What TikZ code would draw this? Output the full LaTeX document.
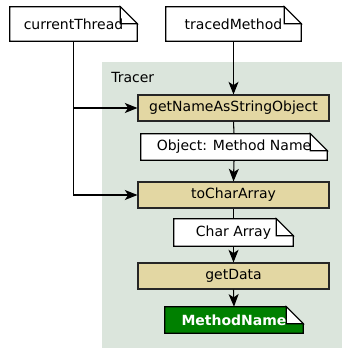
\documentclass[tikz,border=0pt]{standalone}
\usepackage{fontspec}
\setmainfont{DejaVu Sans}
\usetikzlibrary{arrows.meta}

\definecolor{clusterbg}{RGB}{219,229,220}
\definecolor{procfill}{RGB}{227,215,163}
\definecolor{outcol}{RGB}{0,128,0}

\pgfdeclarelayer{cluster}
\pgfdeclarelayer{paper}
\pgfsetlayers{cluster,paper,main}

\tikzset{
  lbl/.style={font=\fontsize{10.5}{12}\selectfont},
  proc/.style={lbl, draw=black!85, fill=procfill, line width=0.8pt,
    minimum width=143.25pt, minimum height=19.5pt, inner sep=0pt},
  notebox/.style={lbl, inner sep=0pt, minimum height=19.5pt},
  flow/.style={line width=0.8pt, -{Stealth[length=9.5pt,width=7.5pt,inset=2.5pt]}},
  link/.style={line width=0.8pt},
}

% paper outline with a folded corner behind a note node
\newcommand\notepaper[3]{%
  \draw[fill=#2, line width=0.8pt]
    (#1.south west) -- (#1.north west) -- ([xshift=-12.75pt]#1.north east)
    -- ([yshift=-12.75pt]#1.north east) -- (#1.south east) -- cycle;
  \draw[fill=#3, line width=0.8pt]
    ([xshift=-12.75pt]#1.north east) -- ([xshift=-12.75pt,yshift=-12.75pt]#1.north east)
    -- ([yshift=-12.75pt]#1.north east) -- cycle;
}

\begin{document}
\begin{tikzpicture}[x=0.75pt,y=-0.75pt]
  \useasboundingbox (0,0) rectangle (343,349);

  % inputs
  \node[notebox, minimum width=95.25pt, minimum height=25.5pt] (ct) at (73.5,24) {currentThread};
  \node[notebox, minimum width=101.25pt, minimum height=25.5pt] (tm) at (233.5,24) {tracedMethod};

  % Tracer steps
  \node[proc] (gn) at (233.5,108) {getNameAsStringObject};
  \node[notebox, minimum width=139.5pt] (on) at (234,147) {Object: Method Name};
  \node[proc] (tc) at (233.5,195) {toCharArray};
  \node[notebox, minimum width=89.25pt, minimum height=20.25pt] (ca) at (233.5,232.5) {Char Array};
  \node[proc] (gd) at (233.5,276) {getData};
  \node[notebox, minimum width=103.5pt, text=white, font=\fontsize{10.5}{12}\selectfont\bfseries] (mn) at (234,320) {MethodName};

  % cluster
  \begin{pgfonlayer}{cluster}
    \fill[clusterbg] (102,62) rectangle (342,348);
  \end{pgfonlayer}
  \node[lbl, anchor=base west, inner sep=0pt] (tr) at (111,83) {Tracer};

  % note papers
  \begin{pgfonlayer}{paper}
    \notepaper{ct}{white}{white}
    \notepaper{tm}{white}{white}
    \notepaper{on}{white}{white}
    \notepaper{ca}{white}{white}
    \notepaper{mn}{outcol}{white}
  \end{pgfonlayer}

  % connectors
  \coordinate (split) at (ct.south |- gn.west);
  \draw[link] (ct.south) -- (split);
  \draw[flow] (split) -- (gn.west);
  \draw[flow] (split) |- (tc.west);
  \draw[flow] (tm.south) -- (gn.north);
  \draw[link] (gn.south) -- (on.north);
  \draw[flow] (on.south) -- (tc.north);
  \draw[link] (tc.south) -- (ca.north);
  \draw[flow] (ca.south) -- (gd.north);
  \draw[flow] (gd.south) -- (mn.north);
\end{tikzpicture}
\end{document}
